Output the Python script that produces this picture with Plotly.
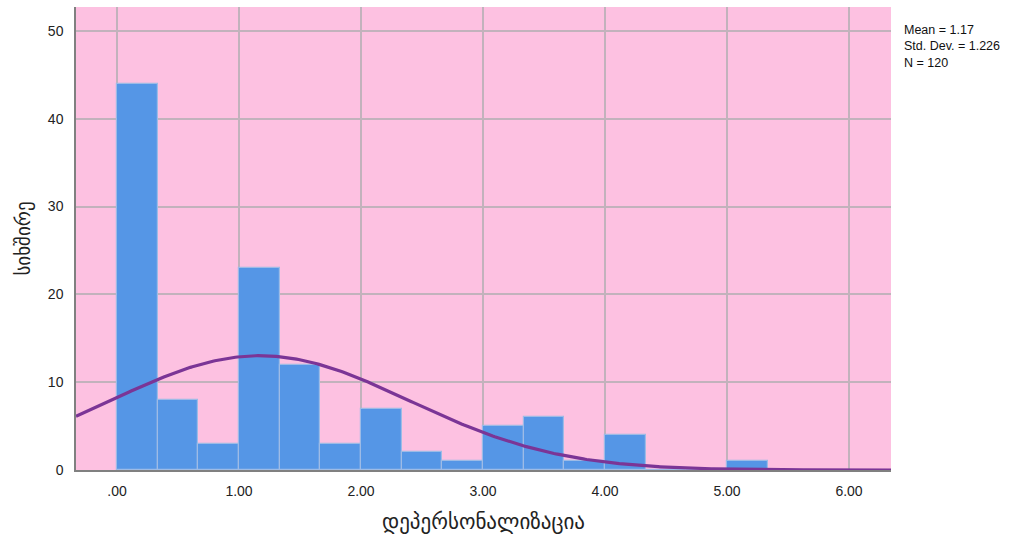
import numpy as np
import plotly.graph_objects as go

# Histogram bins (width 1/3) and counts
bin_width = 1 / 3
bin_starts = [i * bin_width for i in range(16)]
counts = [44, 8, 3, 23, 12, 3, 7, 2, 1, 5, 6, 1, 4, 0, 0, 1]

# Summary statistics
mean_val = 1.17
std_val = 1.226
n_val = 120

x_ticks = [0, 1, 2, 3, 4, 5, 6]
x_tick_labels = [".00", "1.00", "2.00", "3.00", "4.00", "5.00", "6.00"]
y_ticks = [0, 10, 20, 30, 40, 50]

x_range = [-0.336, 6.344]
y_range = [0, 52.73]

centers = [s + bin_width / 2 for s in bin_starts]

# Normal curve scaled to counts
xs = np.linspace(x_range[0], x_range[1], 400)
ys = n_val * bin_width / (std_val * np.sqrt(2 * np.pi)) * np.exp(-0.5 * ((xs - mean_val) / std_val) ** 2)

fig = go.Figure()
fig.add_trace(go.Bar(
    x=centers, y=counts, width=bin_width,
    marker=dict(color="#5596e6", line=dict(color="#9dbbe6", width=1.2)),
    hoverinfo="x+y", showlegend=False,
))
fig.add_trace(go.Scatter(
    x=xs, y=ys, mode="lines",
    line=dict(color="#7b3596", width=3.2),
    showlegend=False, hoverinfo="skip",
))

fig.update_layout(
    width=1024, height=537,
    margin=dict(l=76, r=133, t=7, b=64),
    paper_bgcolor="white",
    plot_bgcolor="#fdc1e1",
    font=dict(family="Liberation Sans, Arial, sans-serif", color="#222222", size=14),
    bargap=0,
    xaxis=dict(
        range=x_range, tickvals=x_ticks, ticktext=x_tick_labels,
        showgrid=True, gridcolor="#c2b2bc", gridwidth=1.5,
        zeroline=False, showline=True, linecolor="#808080", linewidth=1.5,
        ticks="", ticklabelstandoff=7,
        title=dict(text="დეპერსონალიზაცია", font=dict(family="DejaVu Sans, sans-serif", size=21, color="#222222"), standoff=17),
    ),
    yaxis=dict(
        range=y_range, tickvals=y_ticks,
        showgrid=True, gridcolor="#c2b2bc", gridwidth=1.5,
        zeroline=False, showline=True, linecolor="#808080", linewidth=1.5,
        ticks="", ticklabelstandoff=8,
        title=dict(text="სიხშირე", font=dict(family="DejaVu Sans, sans-serif", size=19, color="#222222"), standoff=12),
    ),
    annotations=[dict(
        xref="paper", yref="paper", x=1.013, y=0.97, xanchor="left", yanchor="top",
        text=f"Mean = {mean_val:.2f}<br>Std. Dev. = {std_val:.3f}<br>N = {n_val}",
        showarrow=False, align="left",
        font=dict(family="Liberation Sans, Arial, sans-serif", size=12.5, color="#111111"),
    )],
)

fig.write_html("out.html")
